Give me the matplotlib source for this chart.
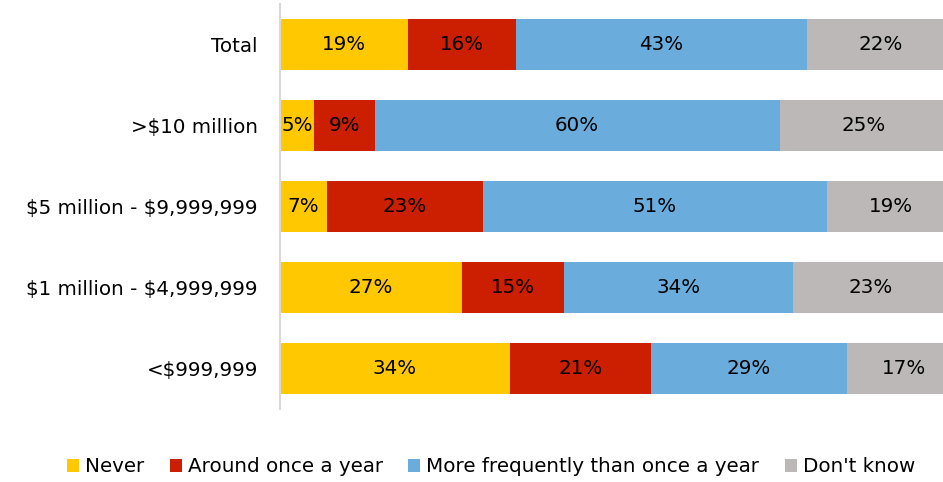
import matplotlib.pyplot as plt
import numpy as np

categories = ['Total', '>$10 million', '$5 million - $9,999,999',
              '$1 million - $4,999,999', '<$999,999']
series = ['Never', 'Around once a year', 'More frequently than once a year', "Don't know"]
never = [19, 5, 7, 27, 34]
once_a_year = [16, 9, 23, 15, 21]
more_often = [43, 60, 51, 34, 29]
dont_know = [22, 25, 19, 23, 17]
colors = ['#FFC800', '#CC1E00', '#6AACDC', '#BCB8B8']

plt.rcParams['font.family'] = ['DejaVu Sans']
plt.rcParams['text.parse_math'] = False   # dollar signs are plain text here
FS = 14.3

fig = plt.figure(figsize=(9.43, 4.82), dpi=100)
# axis continues a little past the right edge of the picture, as in the original
ax = fig.add_axes([280/943, 73/482, 675/943, 405/482])

y = np.arange(len(categories))
left = np.zeros(len(categories))
for name, vals, col in zip(series, [never, once_a_year, more_often, dont_know], colors):
    vals = np.array(vals, dtype=float)
    ax.barh(y, vals, left=left, height=0.64, color=col, label=name, edgecolor='none')
    for yi, l, v in zip(y, left, vals):
        ax.text(l + v/2, yi, f'{int(v)}%', ha='center', va='center', fontsize=FS, color='black')
    left += vals

ax.set_xlim(0, 100)
ax.set_ylim(len(categories) - 0.5, -0.5)
ax.set_yticks(y)
ax.set_yticklabels(categories, fontsize=FS)
ax.tick_params(axis='y', length=0, pad=16)
ax.set_xticks([])
for s in ['top', 'right', 'bottom']:
    ax.spines[s].set_visible(False)
ax.spines['left'].set_color('#D9D9D9')
ax.spines['left'].set_linewidth(1.5)

fig.legend(loc='center', bbox_to_anchor=(491/943, 1 - 467/482), ncol=4, frameon=False,
           fontsize=FS, handlelength=0.6, handleheight=0.6, handletextpad=0.3,
           columnspacing=1.3)

fig.savefig('out.png', dpi=100)
